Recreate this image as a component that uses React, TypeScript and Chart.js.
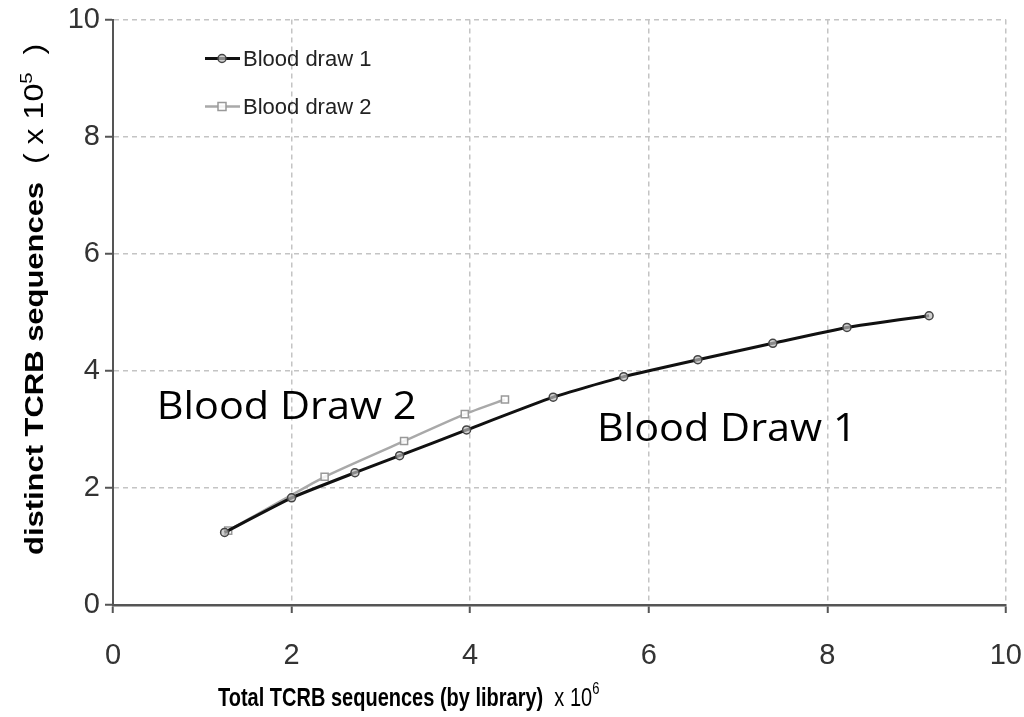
import React, { useEffect, useRef } from "react";
import { Chart, registerables } from "chart.js";

Chart.register(...registerables);

// Total TCRB sequences (x 10^6) vs distinct TCRB sequences (x 10^5)
const draw1X = [1.25, 2.0, 2.71, 3.21, 3.96, 4.93, 5.72, 6.55, 7.39, 8.22, 9.14];
const draw1Y = [1.24, 1.83, 2.26, 2.55, 2.99, 3.55, 3.9, 4.19, 4.47, 4.74, 4.94];
const draw2X = [1.29, 2.37, 3.26, 3.94, 4.39];
const draw2Y = [1.27, 2.19, 2.8, 3.26, 3.51];
const seriesNames = ["Blood draw 1", "Blood draw 2"];
const calloutNames = ["Blood Draw 2", "Blood Draw 1"];
const xTickValues = [0, 2, 4, 6, 8, 10];
const yTickValues = [0, 2, 4, 6, 8, 10];

const SANS = "'Liberation Sans', Arial, sans-serif";

const toPoints = (xs: number[], ys: number[]) => xs.map((x, i) => ({ x, y: ys[i] }));

type Run = { text: string; font: string; rise?: number };

function drawRuns(ctx: CanvasRenderingContext2D, runs: Run[]) {
  let cx = 0;
  for (const r of runs) {
    ctx.font = r.font;
    ctx.fillText(r.text, cx, -(r.rise || 0));
    cx += ctx.measureText(r.text).width;
  }
}

const decorations = {
  id: "decorations",
  afterDatasetsDraw(chart: any) {
    const { ctx, scales } = chart;
    const xs = scales.x;
    const ys = scales.y;
    // callout labels anchored in data space
    const anchors = [
      { x: 0.49, y: 3.17 },
      { x: 5.42, y: 2.8 },
    ];
    ctx.save();
    ctx.fillStyle = "#000";
    ctx.font = "38px 'Open Sans', sans-serif";
    ctx.textAlign = "left";
    ctx.textBaseline = "alphabetic";
    calloutNames.forEach((t, i) => {
      ctx.save();
      ctx.translate(xs.getPixelForValue(anchors[i].x), ys.getPixelForValue(anchors[i].y));
      ctx.scale(1.09, 1);
      ctx.fillText(t, 0, 0);
      ctx.restore();
    });
    ctx.restore();
  },
  afterDraw(chart: any) {
    const { ctx, chartArea } = chart;
    const ds = chart.data.datasets;

    // legend inside the plot, top-left
    ctx.save();
    const lx = chartArea.left + 92;
    const rows = [chartArea.top + 39, chartArea.top + 87];
    rows.forEach((ly: number, i: number) => {
      const d = ds[i];
      ctx.strokeStyle = d.borderColor;
      ctx.lineWidth = d.borderWidth;
      ctx.beginPath();
      ctx.moveTo(lx, ly);
      ctx.lineTo(lx + 35, ly);
      ctx.stroke();
      ctx.lineWidth = d.pointBorderWidth;
      ctx.strokeStyle = d.pointBorderColor;
      ctx.fillStyle = d.pointBackgroundColor;
      const mx = lx + 17;
      ctx.beginPath();
      if (d.pointStyle === "rect") {
        ctx.rect(mx - 4, ly - 4, 8, 8);
      } else {
        ctx.arc(mx, ly, 4, 0, Math.PI * 2);
      }
      ctx.fill();
      ctx.stroke();
      ctx.fillStyle = "#222";
      ctx.font = `22px ${SANS}`;
      ctx.textAlign = "left";
      ctx.textBaseline = "middle";
      ctx.fillText(seriesNames[i], lx + 38, ly + 1);
    });
    ctx.restore();

    // x-axis title
    ctx.save();
    ctx.fillStyle = "#000";
    ctx.textAlign = "left";
    ctx.textBaseline = "alphabetic";
    ctx.translate(chartArea.left + 105, 706);
    ctx.scale(1, 1.3);
    drawRuns(ctx, [
      { text: "Total TCRB sequences (by library)", font: `bold 20px ${SANS}` },
      { text: "  x 10", font: `20px ${SANS}` },
      { text: "6", font: `13px ${SANS}`, rise: 9 },
    ]);
    ctx.restore();

    // y-axis title
    ctx.save();
    ctx.fillStyle = "#000";
    ctx.textAlign = "left";
    ctx.textBaseline = "alphabetic";
    ctx.translate(43, 555);
    ctx.rotate(-Math.PI / 2);
    ctx.scale(1.19, 1);
    drawRuns(ctx, [
      { text: "distinct TCRB sequences", font: `bold 26px ${SANS}` },
      { text: "  ( x 10", font: `27px ${SANS}` },
      { text: "5", font: `17px ${SANS}`, rise: 11 },
      { text: "  )", font: `27px ${SANS}` },
    ]);
    ctx.restore();
  },
};

export default function App() {
  const ref = useRef<HTMLCanvasElement | null>(null);

  useEffect(() => {
    if (!ref.current) return;
    const chart = new Chart(ref.current, {
      type: "line",
      data: {
        datasets: [
          {
            label: seriesNames[0],
            data: toPoints(draw1X, draw1Y),
            borderColor: "#111",
            borderWidth: 3,
            pointStyle: "circle",
            pointRadius: 4,
            pointBorderWidth: 1.5,
            pointBorderColor: "#444",
            pointBackgroundColor: "rgba(190,190,190,0.7)",
            tension: 0.15,
          },
          {
            label: seriesNames[1],
            data: toPoints(draw2X, draw2Y),
            borderColor: "#a9a9a9",
            borderWidth: 2.5,
            pointStyle: "rect",
            pointRadius: 5,
            pointBorderWidth: 1.5,
            pointBorderColor: "#999",
            pointBackgroundColor: "rgba(255,255,255,0.85)",
            tension: 0.15,
          },
        ],
      },
      options: {
        animation: false,
        responsive: true,
        maintainAspectRatio: false,
        layout: { padding: { left: 8, top: 14, right: 18, bottom: 0 } },
        plugins: {
          legend: { display: false },
          tooltip: { enabled: false },
        },
        scales: {
          x: {
            type: "linear",
            min: 0,
            max: 10,
            afterBuildTicks: (s: any) => {
              s.ticks = xTickValues.map((v) => ({ value: v }));
            },
            afterFit: (s: any) => {
              s.height = 112;
            },
            ticks: {
              color: "#333",
              padding: 2,
              font: { family: SANS, size: 29, lineHeight: 2.8 },
            },
            grid: {
              color: "#c4c4c4",
              lineWidth: 1.5,
              tickColor: "#555",
              tickLength: 8,
              tickWidth: 2,
            },
            border: { color: "#555", width: 2.5, dash: [5, 4] },
          },
          y: {
            type: "linear",
            min: 0,
            max: 10,
            afterBuildTicks: (s: any) => {
              s.ticks = yTickValues.map((v) => ({ value: v }));
            },
            afterFit: (s: any) => {
              s.width = 105;
            },
            ticks: {
              color: "#333",
              padding: 5,
              font: { family: SANS, size: 29, lineHeight: 1 },
            },
            grid: {
              color: "#c4c4c4",
              lineWidth: 1.5,
              tickColor: "#555",
              tickLength: 8,
              tickWidth: 2,
            },
            border: { color: "#555", width: 2, dash: [5, 4] },
          },
        },
      },
      plugins: [decorations],
    });
    return () => chart.destroy();
  }, []);

  return (
    <div
      style={{
        position: "fixed",
        left: 0,
        top: 0,
        width: 1024,
        height: 717,
        background: "#fff",
      }}
    >
      <canvas ref={ref} />
    </div>
  );
}
